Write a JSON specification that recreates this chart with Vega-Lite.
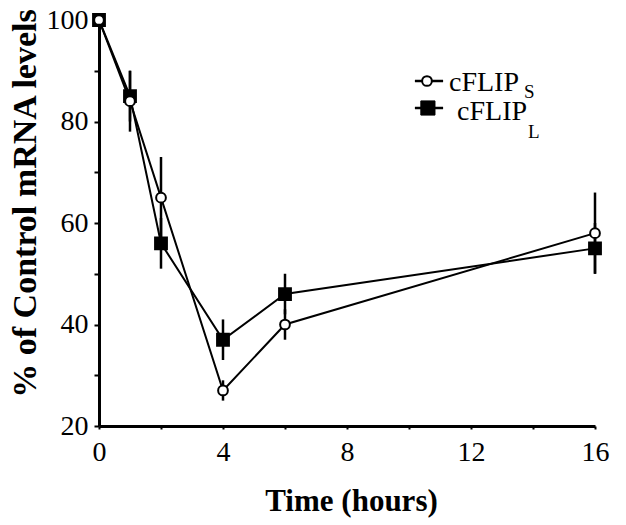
{
  "$schema": "https://vega.github.io/schema/vega-lite/v6.json",
  "width": 496,
  "height": 406,
  "autosize": "none",
  "padding": {"left": 99, "top": 20, "right": 31, "bottom": 99},
  "background": "white",
  "config": {
    "view": {"stroke": null},
    "font": "Liberation Serif, Times New Roman, serif",
    "text": {"font": "Liberation Serif, Times New Roman, serif", "fontWeight": "normal"},
    "axis": {
      "domainColor": "black", "domainWidth": 3, "tickColor": "black", "tickWidth": 2,
      "labelColor": "black", "labelFont": "Liberation Serif, Times New Roman, serif", "labelFontSize": 28,
      "labelFlush": false, "labelOverlap": false, "grid": false,
      "titleColor": "black", "titleFont": "Liberation Serif, Times New Roman, serif", "titleFontWeight": "bold"
    }
  },
  "layer": [
    {
      "data": {
        "values": [
          {"time": 0, "series": "L", "value": 100, "lo": 100, "hi": 100},
          {"time": 1, "series": "L", "value": 85, "lo": 80, "hi": 90},
          {"time": 2, "series": "L", "value": 56, "lo": 51, "hi": 61},
          {"time": 4, "series": "L", "value": 37, "lo": 33, "hi": 41},
          {"time": 6, "series": "L", "value": 46, "lo": 42, "hi": 50},
          {"time": 16, "series": "L", "value": 55, "lo": 50, "hi": 60},
          {"time": 0, "series": "S", "value": 100, "lo": 100, "hi": 100},
          {"time": 1, "series": "S", "value": 84, "lo": 78, "hi": 90},
          {"time": 2, "series": "S", "value": 65, "lo": 57, "hi": 73},
          {"time": 4, "series": "S", "value": 27, "lo": 25, "hi": 29},
          {"time": 6, "series": "S", "value": 40, "lo": 37, "hi": 43},
          {"time": 16, "series": "S", "value": 58, "lo": 50, "hi": 66}
        ]
      },
      "encoding": {
        "x": {
          "field": "time", "type": "quantitative",
          "scale": {"domain": [0, 16], "nice": false, "zero": false},
          "axis": {
            "values": [0, 2, 4, 6, 8, 10, 12, 14, 16],
            "labelExpr": "datum.value % 4 === 0 ? datum.label : ''",
            "tickSize": 3, "labelPadding": 9,
            "title": "Time (hours)", "titleFontSize": 31,
            "titleX": 252, "titleY": 84, "titleBaseline": "alphabetic", "titleAlign": "center"
          }
        },
        "y": {
          "field": "value", "type": "quantitative",
          "scale": {"domain": [20, 100], "nice": false, "zero": false},
          "axis": {
            "values": [20, 30, 40, 50, 60, 70, 80, 90, 100],
            "labelExpr": "datum.value % 20 === 0 ? datum.label : ''",
            "tickSize": 5, "labelPadding": 6,
            "title": "% of Control mRNA levels", "titleFontSize": 34,
            "titleAngle": -90, "titleX": -64, "titleY": 183,
            "titleBaseline": "alphabetic", "titleAlign": "center"
          }
        }
      },
      "layer": [
        {
          "mark": {"type": "line", "color": "black", "strokeWidth": 2},
          "encoding": {"detail": {"field": "series"}}
        },
        {
          "mark": {"type": "rule", "color": "black", "strokeWidth": 2.5},
          "encoding": {"y": {"field": "lo", "type": "quantitative"}, "y2": {"field": "hi"}}
        },
        {
          "mark": {"type": "point", "stroke": "black", "strokeWidth": 2, "opacity": 1, "filled": false},
          "encoding": {
            "shape": {"field": "series", "type": "nominal", "scale": {"domain": ["S", "L"], "range": ["circle", "square"]}, "legend": null},
            "fill": {"field": "series", "type": "nominal", "scale": {"domain": ["S", "L"], "range": ["white", "black"]}, "legend": null},
            "size": {"field": "series", "type": "nominal", "scale": {"domain": ["S", "L"], "range": [95, 140]}, "legend": null}
          }
        }
      ]
    },
    {
      "data": {"values": [{"item": "legend"}]},
      "layer": [
        {
          "mark": {"type": "rule", "color": "black", "strokeWidth": 2.5},
          "encoding": {"x": {"datum": 10.19}, "x2": {"datum": 11.1}, "y": {"datum": 87.98}}
        },
        {
          "mark": {"type": "rule", "color": "black", "strokeWidth": 2.5},
          "encoding": {"x": {"datum": 10.19}, "x2": {"datum": 11.1}, "y": {"datum": 82.66}}
        },
        {
          "mark": {"type": "point", "shape": "circle", "size": 95, "fill": "white", "stroke": "black", "strokeWidth": 2, "opacity": 1},
          "encoding": {"x": {"datum": 10.58}, "y": {"datum": 87.98}}
        },
        {
          "mark": {"type": "point", "shape": "square", "size": 200, "fill": "black", "stroke": "black", "strokeWidth": 1, "opacity": 1},
          "encoding": {"x": {"datum": 10.61}, "y": {"datum": 82.66}}
        },
        {
          "mark": {"type": "text", "align": "left", "baseline": "alphabetic", "fontSize": 28, "fontWeight": "normal", "color": "black"},
          "encoding": {"x": {"datum": 11.29}, "y": {"datum": 86.01}, "text": {"value": "cFLIP"}}
        },
        {
          "mark": {"type": "text", "align": "left", "baseline": "alphabetic", "fontSize": 19, "fontWeight": "normal", "color": "black"},
          "encoding": {"x": {"datum": 13.71}, "y": {"datum": 84.63}, "text": {"value": "S"}}
        },
        {
          "mark": {"type": "text", "align": "left", "baseline": "alphabetic", "fontSize": 28, "fontWeight": "normal", "color": "black"},
          "encoding": {"x": {"datum": 11.55}, "y": {"datum": 80.3}, "text": {"value": "cFLIP"}}
        },
        {
          "mark": {"type": "text", "align": "left", "baseline": "alphabetic", "fontSize": 19, "fontWeight": "normal", "color": "black"},
          "encoding": {"x": {"datum": 13.84}, "y": {"datum": 76.75}, "text": {"value": "L"}}
        }
      ]
    }
  ]
}
